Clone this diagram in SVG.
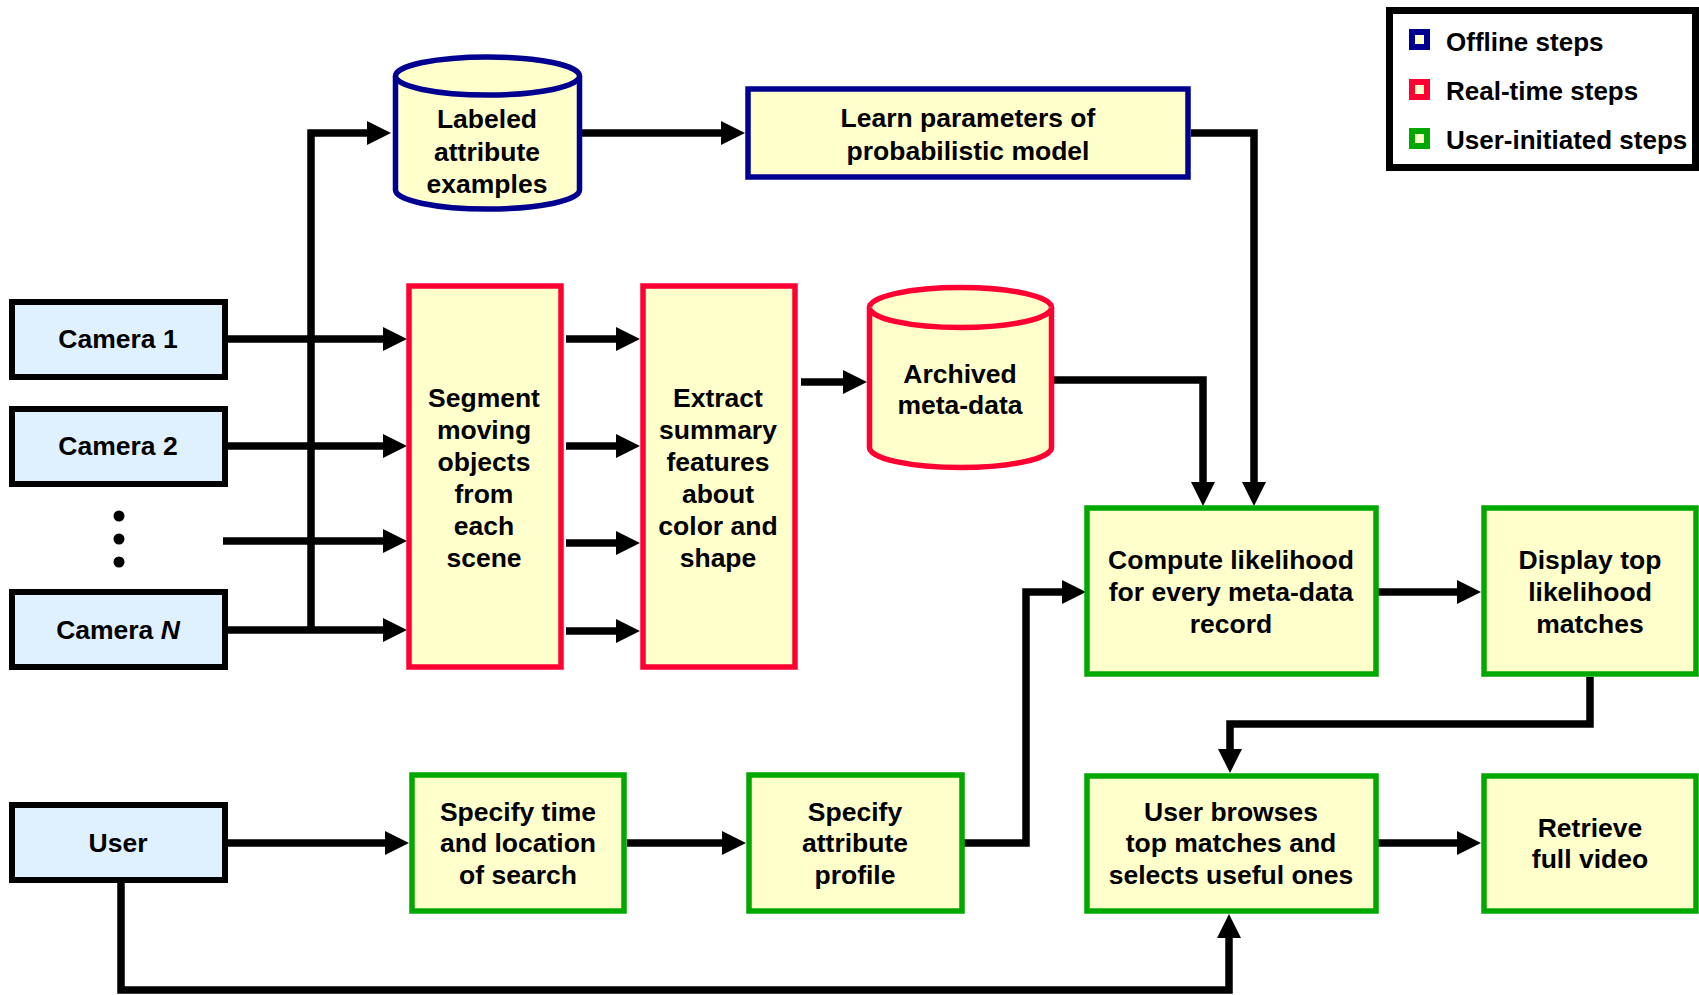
<svg xmlns="http://www.w3.org/2000/svg" width="1699" height="995" viewBox="0 0 1699 995">
<style>
text{font-family:"Liberation Sans",Arial,sans-serif;font-weight:bold;font-size:26.5px;fill:#000;text-anchor:middle}
.cam{fill:#DFF0FF;stroke:#000;stroke-width:6}
.off{fill:#FFFFCC;stroke:#000090;stroke-width:5.5}
.rt{fill:#FFFFCC;stroke:#FF0033;stroke-width:5.5}
.ui{fill:#FFFFCC;stroke:#00A800;stroke-width:5.5}
.c{fill:none;stroke:#000;stroke-width:7.5;stroke-linejoin:miter}
.lg{text-anchor:start;font-size:26px}
</style>
<defs>
<marker id="ah" markerUnits="userSpaceOnUse" markerWidth="26" markerHeight="26" refX="2" refY="12" orient="auto">
<path d="M0,0 L24,12 L0,24 Z" fill="#000"/>
</marker>
</defs>
<rect width="1699" height="995" fill="#fff"/>

<g id="connectors">
<path class="c" d="M311 630 V133 H369" marker-end="url(#ah)"/>
<path class="c" d="M228 339 H385" marker-end="url(#ah)"/>
<path class="c" d="M228 446 H385" marker-end="url(#ah)"/>
<path class="c" d="M223 541 H385" marker-end="url(#ah)"/>
<path class="c" d="M228 630 H385" marker-end="url(#ah)"/>
<path class="c" d="M566 339 H618" marker-end="url(#ah)"/>
<path class="c" d="M566 446 H618" marker-end="url(#ah)"/>
<path class="c" d="M566 543 H618" marker-end="url(#ah)"/>
<path class="c" d="M566 631 H618" marker-end="url(#ah)"/>
<path class="c" d="M801 382 H845" marker-end="url(#ah)"/>
<path class="c" d="M582 133 H723" marker-end="url(#ah)"/>
<path class="c" d="M1191 133 H1254 V484" marker-end="url(#ah)"/>
<path class="c" d="M1054 380 H1203 V484" marker-end="url(#ah)"/>
<path class="c" d="M1378 592 H1459" marker-end="url(#ah)"/>
<path class="c" d="M1590 677 V724 H1230 V751" marker-end="url(#ah)"/>
<path class="c" d="M1378 843 H1459" marker-end="url(#ah)"/>
<path class="c" d="M228 843 H387" marker-end="url(#ah)"/>
<path class="c" d="M627 843 H724" marker-end="url(#ah)"/>
<path class="c" d="M964 843 H1026 V592 H1064" marker-end="url(#ah)"/>
<path class="c" d="M121 883 V990 H1229 V936" marker-end="url(#ah)"/>
</g>

<g id="camera1"><rect class="cam" x="12" y="302" width="213" height="75"/><text x="118" y="348">Camera 1</text></g>
<g id="camera2"><rect class="cam" x="12" y="409" width="213" height="75"/><text x="118" y="455">Camera 2</text></g>
<g id="dots"><circle cx="119" cy="516" r="5.5"/><circle cx="119" cy="539" r="5.5"/><circle cx="119" cy="562" r="5.5"/></g>
<g id="cameraN"><rect class="cam" x="12" y="592" width="213" height="75"/><text x="118" y="639">Camera <tspan font-style="italic">N</tspan></text></g>
<g id="user"><rect class="cam" x="12" y="805" width="213" height="75"/><text x="118" y="852">User</text></g>

<g id="labeled">
<path class="off" d="M395.5 76 A92 19 0 0 1 579.5 76 L579.5 190 A92 19 0 0 1 395.5 190 Z"/>
<path class="off" d="M395.5 76 A92 19 0 0 0 579.5 76"/>
<text x="487" y="128">Labeled</text><text x="487" y="161">attribute</text><text x="487" y="193">examples</text>
</g>
<g id="learn"><rect class="off" x="748" y="89" width="440" height="88"/><text x="968" y="127">Learn parameters of</text><text x="968" y="160">probabilistic model</text></g>

<g id="segment"><rect class="rt" x="409" y="286" width="152" height="381"/>
<text x="484" y="407">Segment</text><text x="484" y="439">moving</text><text x="484" y="471">objects</text><text x="484" y="503">from</text><text x="484" y="535">each</text><text x="484" y="567">scene</text></g>
<g id="extract"><rect class="rt" x="643" y="286" width="152" height="381"/>
<text x="718" y="407">Extract</text><text x="718" y="439">summary</text><text x="718" y="471">features</text><text x="718" y="503">about</text><text x="718" y="535">color and</text><text x="718" y="567">shape</text></g>
<g id="archived">
<path class="rt" d="M869.5 307.5 A91 20 0 0 1 1051.5 307.5 L1051.5 447.5 A91 20 0 0 1 869.5 447.5 Z"/>
<path class="rt" d="M869.5 307.5 A91 20 0 0 0 1051.5 307.5"/>
<text x="960" y="383">Archived</text><text x="960" y="414">meta-data</text>
</g>

<g id="compute"><rect class="ui" x="1087" y="508" width="289" height="166"/><text x="1231" y="569">Compute likelihood</text><text x="1231" y="601">for every meta-data</text><text x="1231" y="633">record</text></g>
<g id="display"><rect class="ui" x="1484" y="508" width="212" height="166"/><text x="1590" y="569">Display top</text><text x="1590" y="601">likelihood</text><text x="1590" y="633">matches</text></g>
<g id="browses"><rect class="ui" x="1087" y="776" width="289" height="135"/><text x="1231" y="821">User browses</text><text x="1231" y="852">top matches and</text><text x="1231" y="884">selects useful ones</text></g>
<g id="retrieve"><rect class="ui" x="1484" y="776" width="212" height="135"/><text x="1590" y="837">Retrieve</text><text x="1590" y="868">full video</text></g>
<g id="specifytime"><rect class="ui" x="412" y="775" width="212" height="136"/><text x="518" y="821">Specify time</text><text x="518" y="852">and location</text><text x="518" y="884">of search</text></g>
<g id="specifyattr"><rect class="ui" x="749" y="775" width="213" height="136"/><text x="855" y="821">Specify</text><text x="855" y="852">attribute</text><text x="855" y="884">profile</text></g>

<g id="legend">
<rect x="1389.5" y="10.5" width="306" height="157" fill="#fff" stroke="#000" stroke-width="7"/>
<rect x="1412" y="32" width="15" height="15" fill="#FFFFCC" stroke="#000090" stroke-width="6"/>
<rect x="1412" y="82" width="15" height="15" fill="#FFFFCC" stroke="#FF0033" stroke-width="6"/>
<rect x="1412" y="131" width="15" height="15" fill="#FFFFCC" stroke="#00A800" stroke-width="6"/>
<text class="lg" x="1446" y="51">Offline steps</text>
<text class="lg" x="1446" y="100">Real-time steps</text>
<text class="lg" x="1446" y="149">User-initiated steps</text>
</g>
</svg>
